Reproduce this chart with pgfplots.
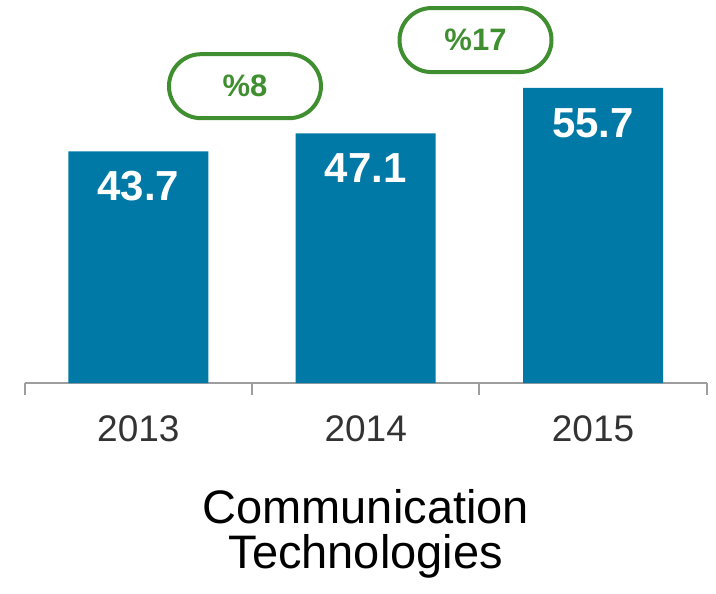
\documentclass[border=0pt]{standalone}
\usepackage{fontspec}
\setmainfont{Liberation Sans}
\usepackage{pgfplots}
\pgfplotsset{compat=1.18}

\definecolor{barblue}{HTML}{0079A7}
\definecolor{bubgreen}{HTML}{3F8F30}
\definecolor{axisgray}{HTML}{9E9E9E}
\definecolor{labgray}{HTML}{333333}

\begin{document}
\begin{tikzpicture}
% page = 716 x 594 bp, axis box sits at the origin
\path[use as bounding box] (-24.7bp,-211bp) rectangle (691.3bp,383bp);
\begin{axis}[
    scale only axis,
    width=682bp, height=383bp,
    xmin=-0.5, xmax=2.5,
    ymin=0, ymax=72.26,
    axis x line*=bottom,
    axis y line=none,
    ytick=\empty,
    xtick={0,1,2},
    xticklabels={2013,2014,2015},
    major tick length=0pt,
    minor xtick={-0.5,0.5,1.5,2.5},
    minor tick length=12bp,
    tick align=outside,
    minor tick style={draw=axisgray, line width=2bp},
    axis line style={draw=axisgray, line width=2bp},
    xticklabel style={anchor=base, inner sep=0pt, yshift=-58bp,
        text=labgray, font=\fontsize{37bp}{37bp}\selectfont},
    xlabel={Communication\\Technologies},
    xlabel style={at={(axis description cs:0.5,0)}, anchor=base,
        yshift=-185bp, inner sep=0pt, align=center,
        font=\fontsize{47bp}{45bp}\selectfont},
    clip=false,
    ybar,
    bar width=140bp,
    nodes near coords={\pgfmathprintnumber[assume math mode=true,fixed,precision=1,fixed zerofill]{\pgfplotspointmeta}},
    every node near coord/.append style={anchor=center, yshift=-35bp,
        text=white, font=\bfseries\fontsize{42bp}{42bp}\selectfont},
]
\addplot[fill=barblue, draw=none] coordinates {(0,43.7) (1,47.1) (2,55.7)};

\node[draw=bubgreen, line width=4bp, rounded corners=32bp,
      minimum width=152bp, minimum height=64bp, text=bubgreen,
      font=\bfseries\fontsize{31bp}{31bp}\selectfont]
      at (axis cs:0.469,56.0) {\%8};
\node[draw=bubgreen, line width=4bp, rounded corners=32bp,
      minimum width=152bp, minimum height=64bp, text=bubgreen,
      font=\bfseries\fontsize{31bp}{31bp}\selectfont]
      at (axis cs:1.483,64.7) {\%17};
\end{axis}
\end{tikzpicture}
\end{document}
